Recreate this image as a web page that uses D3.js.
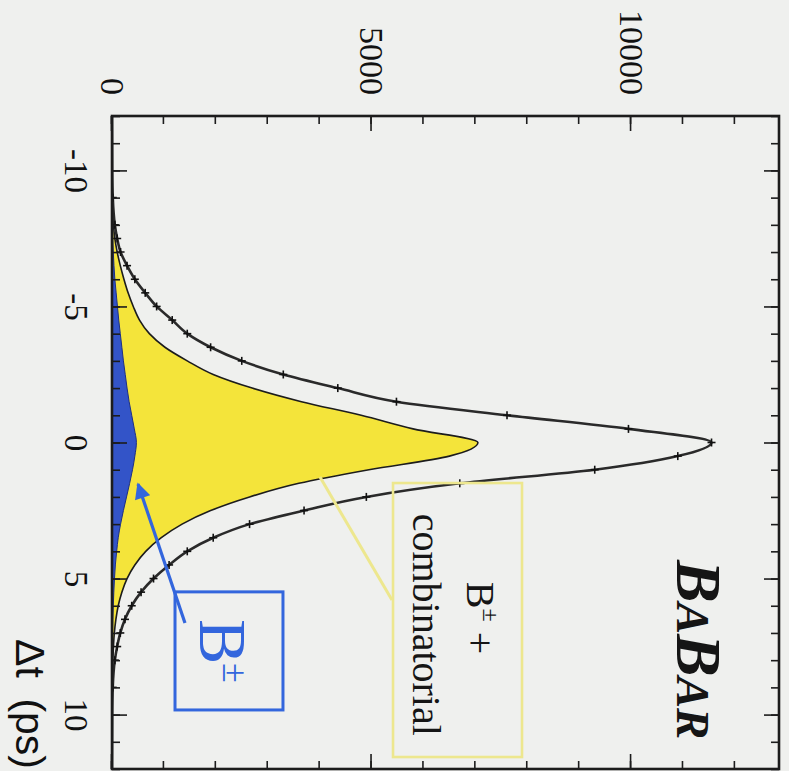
<!DOCTYPE html>
<html>
<head>
<meta charset="utf-8">
<script src="https://cdn.jsdelivr.net/npm/d3@7"></script>
<style>
  html, body { margin: 0; padding: 0; background: #eff0ee; }
  svg { display: block; }
</style>
</head>
<body>
<div id="chart"></div>
<script>
// ----------------- data -----------------
// Δt sampling points (ps)
var dtValues = [-12, -10, -9, -8, -7.5, -7, -6.5, -6, -5.5, -5, -4.5, -4, -3.5, -3, -2.5, -2, -1.5, -1, -0.5,
                0, 0.5, 1, 1.5, 2, 2.5, 3, 3.5, 4, 4.5, 5, 5.5, 6, 6.5, 7, 7.5, 8, 9, 10, 12];
// total fit (all events), events / bin
var totalFit = [0, 4, 15, 55, 100, 165, 290, 440, 640, 860, 1160, 1450, 1900, 2500, 3300, 4350, 5480, 7610, 9950,
                11550, 10900, 9300, 6700, 4900, 3700, 2650, 1950, 1450, 1100, 800, 560, 380, 250, 160, 100, 55, 14, 4, 0];
// B± + combinatorial component (yellow)
var bkgFit = [0, 2, 8, 28, 55, 100, 160, 230, 310, 410, 530, 720, 1020, 1450, 1950, 2700, 3650, 4800, 5800,
              7050, 6500, 4950, 3600, 2650, 1900, 1350, 950, 650, 440, 290, 190, 120, 75, 45, 28, 17, 6, 2, 0];
// B± component (blue)
var signalFit = [0, 1, 4, 10, 16, 25, 38, 55, 80, 105, 130, 160, 190, 220, 255, 290, 330, 380, 430,
                 470, 440, 395, 340, 280, 220, 165, 120, 90, 65, 48, 35, 25, 17, 12, 8, 5, 2, 1, 0];

var dtTicks = [-10, -5, 0, 5, 10];
var countTicks = [0, 5000, 10000];

// ----------------- settings -----------------
var attrs = {
  width: 789,
  height: 771,
  frameLeft: 112,
  frameTop: 116,
  frameRight: 779,
  frameBottom: 769,
  dtDomain: [-12, 12],
  countMax: 12850,
  background: '#eff0ee',
  ink: '#1c1c1c',
  yellow: '#f4e43a',
  blueFill: '#3354c8',
  blueInk: '#3366dd',
  paleYellow: '#ede78e',
  serif: '"Liberation Serif", "Times New Roman", serif',
  sans: '"Liberation Sans", Arial, sans-serif'
};

var plotW = attrs.frameBottom - attrs.frameTop;   // length of the Δt axis
var plotH = attrs.frameRight - attrs.frameLeft;   // length of the count axis

var svg = d3.select('#chart').append('svg')
  .attr('width', attrs.width)
  .attr('height', attrs.height);

svg.append('rect')
  .attr('width', attrs.width)
  .attr('height', attrs.height)
  .attr('fill', attrs.background);

// the figure is drawn upright, then turned a quarter turn clockwise
var g = svg.append('g')
  .attr('transform', 'translate(' + attrs.frameRight + ',' + attrs.frameTop + ') rotate(90)');

var x = d3.scaleLinear().domain(attrs.dtDomain).range([0, plotW]);
var y = d3.scaleLinear().domain([0, attrs.countMax]).range([plotH, 0]);

var points = dtValues.map(function(d, i) {
  return { dt: d, total: totalFit[i], bkg: bkgFit[i], sig: signalFit[i] };
});

g.append('clipPath').attr('id', 'plot-clip')
  .append('rect').attr('width', plotW).attr('height', plotH);

var plot = g.append('g').attr('clip-path', 'url(#plot-clip)');

function areaOf(key) {
  return d3.area()
    .x(function(d) { return x(d.dt); })
    .y0(y(0))
    .y1(function(d) { return y(d[key]); })
    .curve(d3.curveMonotoneX);
}
function lineOf(key) {
  return d3.line()
    .x(function(d) { return x(d.dt); })
    .y(function(d) { return y(d[key]); })
    .curve(d3.curveMonotoneX);
}

// yellow: B± + combinatorial
plot.append('path').datum(points)
  .attr('d', areaOf('bkg'))
  .attr('fill', attrs.yellow);
plot.append('path').datum(points)
  .attr('d', lineOf('bkg'))
  .attr('fill', 'none')
  .attr('stroke', attrs.ink)
  .attr('stroke-width', 1.6);

// blue: B±
plot.append('path').datum(points)
  .attr('d', areaOf('sig'))
  .attr('fill', attrs.blueFill);
plot.append('path').datum(points)
  .attr('d', lineOf('sig'))
  .attr('fill', 'none')
  .attr('stroke', '#1d2f86')
  .attr('stroke-width', 1);

// total fit + data points
plot.append('path').datum(points)
  .attr('d', lineOf('total'))
  .attr('fill', 'none')
  .attr('stroke', '#2a2a2a')
  .attr('stroke-width', 2.6);

var marks = plot.selectAll('.data-point')
  .data(points.filter(function(d) { return Math.abs(d.dt) <= 9; }))
  .enter().append('g')
  .attr('class', 'data-point')
  .attr('transform', function(d) { return 'translate(' + x(d.dt) + ',' + y(d.total) + ')'; });
marks.append('line').attr('x1', -4).attr('x2', 4).attr('y1', 0).attr('y2', 0);
marks.append('line').attr('x1', 0).attr('x2', 0).attr('y1', -4).attr('y2', 4);
marks.selectAll('line').attr('stroke', '#111').attr('stroke-width', 1.6);

// ----------------- axes -----------------
function styleAxis(sel, fontSize) {
  sel.select('.domain').remove();
  sel.selectAll('line').attr('stroke', attrs.ink).attr('stroke-width', 1.6);
  sel.selectAll('text')
    .attr('font-family', attrs.serif)
    .attr('font-size', fontSize)
    .attr('fill', '#111');
  return sel;
}

var plainNumber = function(d) { return String(d); };   // keeps the short hyphen for "-10"
var dtMinor = d3.range(-12, 12.5, 1);
var countMinor = d3.range(0, 13000, 1000);

// Δt axis (bottom) and its mirror (top)
styleAxis(g.append('g').attr('transform', 'translate(0,' + plotH + ')')
  .call(d3.axisBottom(x).tickValues(dtMinor).tickSize(-8).tickFormat('')), 0);
styleAxis(g.append('g').attr('transform', 'translate(0,' + plotH + ')')
  .call(d3.axisBottom(x).tickValues(dtTicks).tickSizeInner(-15).tickSizeOuter(0).tickPadding(24)
    .tickFormat(plainNumber)), 33);
styleAxis(g.append('g')
  .call(d3.axisTop(x).tickValues(dtMinor).tickSize(-8).tickFormat('')), 0);
styleAxis(g.append('g')
  .call(d3.axisTop(x).tickValues(dtTicks).tickSize(-15).tickFormat('')), 0);

// count axis (left) and its mirror (right)
styleAxis(g.append('g')
  .call(d3.axisLeft(y).tickValues(countMinor).tickSize(-8).tickFormat('')), 0);
styleAxis(g.append('g')
  .call(d3.axisLeft(y).tickValues(countTicks).tickSizeInner(-15).tickSizeOuter(0).tickPadding(21)
    .tickFormat(plainNumber)), 34);
styleAxis(g.append('g').attr('transform', 'translate(' + plotW + ',0)')
  .call(d3.axisRight(y).tickValues(countMinor).tickSize(-8).tickFormat('')), 0);
styleAxis(g.append('g').attr('transform', 'translate(' + plotW + ',0)')
  .call(d3.axisRight(y).tickValues(countTicks).tickSize(-15).tickFormat('')), 0);

// frame
g.append('rect')
  .attr('width', plotW).attr('height', plotH)
  .attr('fill', 'none')
  .attr('stroke', attrs.ink)
  .attr('stroke-width', 2.6);

// axis title
g.append('text')
  .attr('x', plotW)
  .attr('y', plotH + 96)
  .attr('text-anchor', 'end')
  .attr('font-family', attrs.sans)
  .attr('font-size', 41)
  .attr('fill', '#111')
  .text('\u0394t\u2002(ps)');

// ----------------- annotations -----------------
// BABAR logo
var logo = g.append('text')
  .attr('x', x(4.32)).attr('y', y(10885))
  .attr('font-family', attrs.serif)
  .attr('font-weight', 'bold')
  .attr('font-style', 'italic')
  .attr('fill', '#151515');
[['B', 64], ['A', 47], ['B', 64], ['AR', 47]].forEach(function(p) {
  logo.append('tspan').attr('font-size', p[1]).text(p[0]);
});

// B± + combinatorial label box
var bkgBox = { dt0: 1.49, dt1: 11.56, c0: 5414, c1: 7899 };
g.append('rect')
  .attr('x', x(bkgBox.dt0)).attr('width', x(bkgBox.dt1) - x(bkgBox.dt0))
  .attr('y', y(bkgBox.c1)).attr('height', y(bkgBox.c0) - y(bkgBox.c1))
  .attr('fill', 'none')
  .attr('stroke', attrs.paleYellow)
  .attr('stroke-width', 2.6);
g.append('line')
  .attr('x1', x(1.27)).attr('y1', y(4007))
  .attr('x2', x(5.79)).attr('y2', y(5394))
  .attr('stroke', attrs.paleYellow)
  .attr('stroke-width', 3);

var bkgLine1 = g.append('text')
  .attr('x', x(6.45)).attr('y', y(6839))
  .attr('text-anchor', 'middle')
  .attr('font-family', attrs.serif)
  .attr('font-size', 40)
  .attr('fill', '#151515');
bkgLine1.append('tspan').text('B');
bkgLine1.append('tspan').attr('font-size', 24).attr('dy', -16).text('\u00b1');
bkgLine1.append('tspan').attr('dy', 16).text(' +');

g.append('text')
  .attr('x', x(6.70)).attr('y', y(5799))
  .attr('text-anchor', 'middle')
  .attr('font-family', attrs.serif)
  .attr('font-size', 40)
  .attr('fill', '#151515')
  .text('combinatorial');

// B± label box + arrow
var sigBox = { dt0: 5.49, dt1: 9.83, c0: 1214, c1: 3294 };
g.append('rect')
  .attr('x', x(sigBox.dt0)).attr('width', x(sigBox.dt1) - x(sigBox.dt0))
  .attr('y', y(sigBox.c1)).attr('height', y(sigBox.c0) - y(sigBox.c1))
  .attr('fill', 'none')
  .attr('stroke', attrs.blueInk)
  .attr('stroke-width', 3);

g.append('defs').append('marker')
  .attr('id', 'arrow-head')
  .attr('markerUnits', 'userSpaceOnUse')
  .attr('viewBox', '0 0 10 10')
  .attr('refX', 9).attr('refY', 5)
  .attr('markerWidth', 18).attr('markerHeight', 16)
  .attr('orient', 'auto')
  .append('path')
  .attr('d', 'M0,0 L10,5 L0,10 z')
  .attr('fill', attrs.blueInk);

g.append('line')
  .attr('x1', x(6.63)).attr('y1', y(1406))
  .attr('x2', x(1.53)).attr('y2', y(501))
  .attr('stroke', attrs.blueInk)
  .attr('stroke-width', 3.2)
  .attr('marker-end', 'url(#arrow-head)');

g.append('text')
  .attr('x', x(6.49)).attr('y', y(1695))
  .attr('font-family', attrs.serif)
  .attr('font-size', 68)
  .attr('fill', attrs.blueInk)
  .text('B');
g.append('text')
  .attr('x', x(8.10)).attr('y', y(2139))
  .attr('font-family', attrs.serif)
  .attr('font-size', 36)
  .attr('fill', attrs.blueInk)
  .text('\u00b1');
</script>
</body>
</html>
